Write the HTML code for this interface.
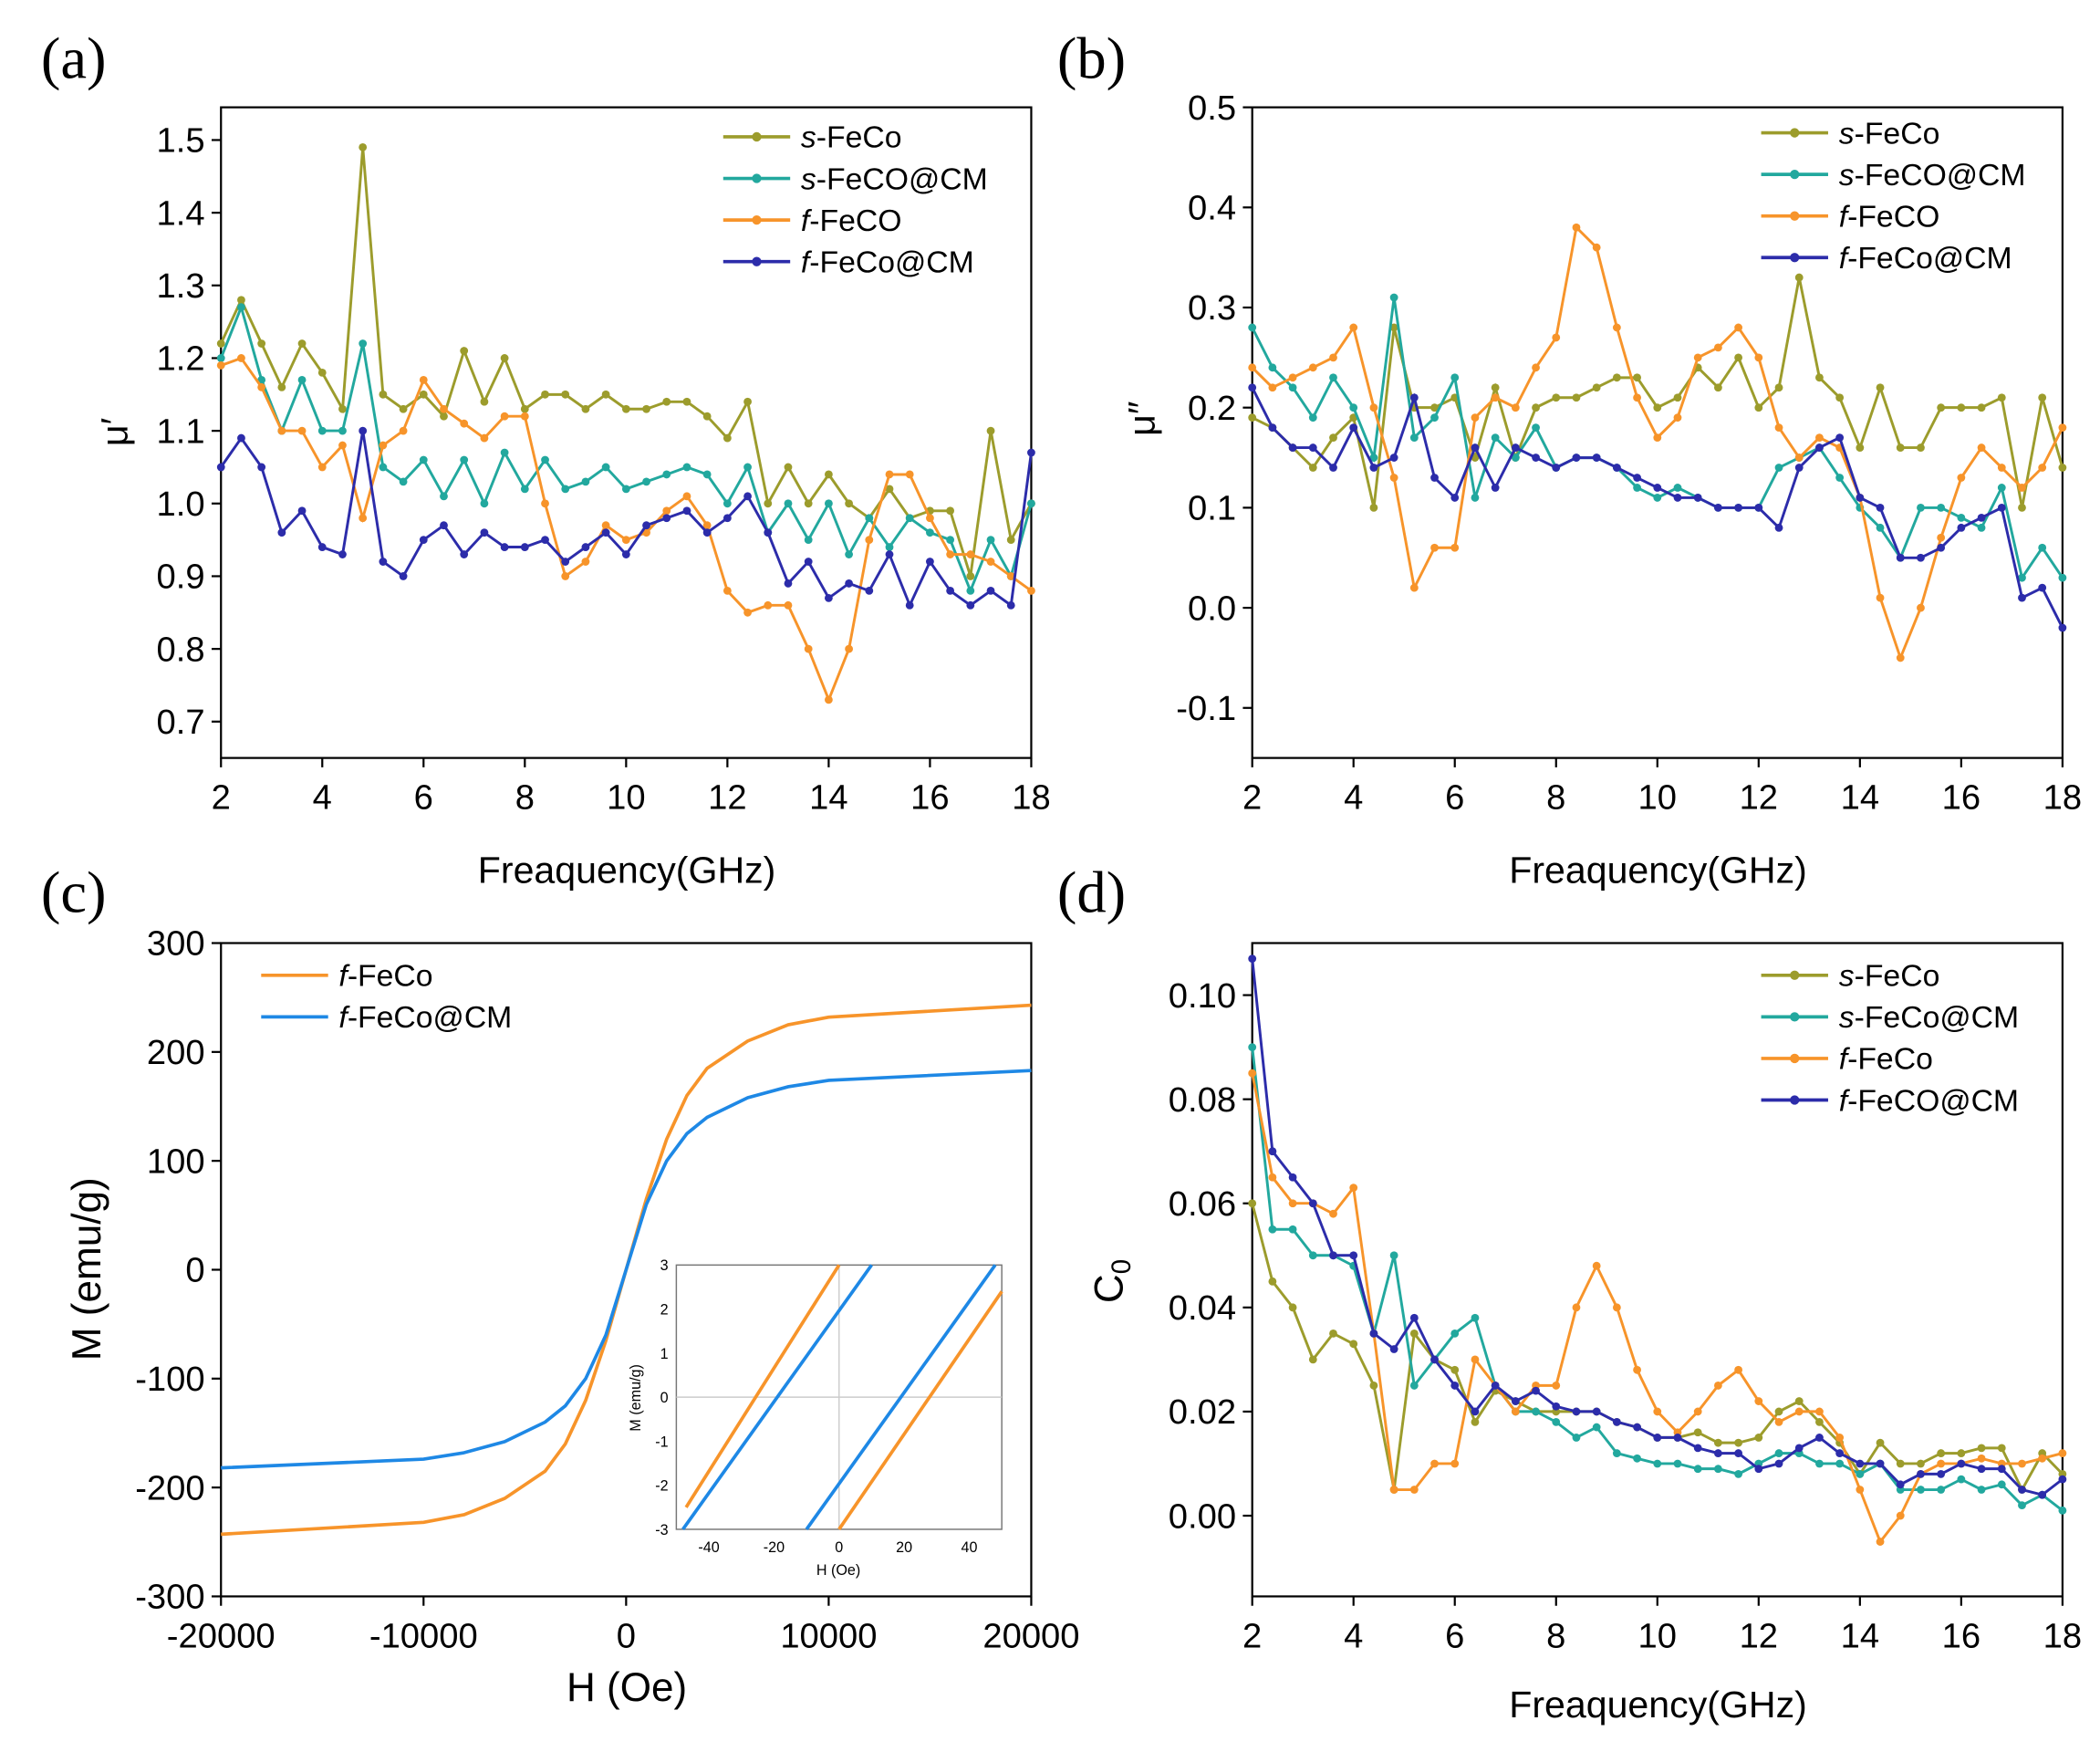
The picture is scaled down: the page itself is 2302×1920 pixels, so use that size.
<!DOCTYPE html>
<html><head><meta charset="utf-8"><style>
html,body{margin:0;padding:0;background:#fff;}
svg{display:block;font-family:"Liberation Sans",sans-serif;}
</style></head><body>
<svg id="fig" width="2302" height="1920" viewBox="0 0 1568 1306" preserveAspectRatio="none" xmlns="http://www.w3.org/2000/svg"></svg>
<script>
const freq=[2.0,2.4,2.8,3.2,3.6,4.0,4.4,4.8,5.2,5.6,6.0,6.4,6.8,7.2,7.6,8.0,8.4,8.8,9.2,9.6,10.0,10.4,10.8,11.2,11.6,12.0,12.4,12.8,13.2,13.6,14.0,14.4,14.8,15.2,15.6,16.0,16.4,16.8,17.2,17.6,18.0];
const a_sFeCo=[1.22,1.28,1.22,1.16,1.22,1.18,1.13,1.49,1.15,1.13,1.15,1.12,1.21,1.14,1.20,1.13,1.15,1.15,1.13,1.15,1.13,1.13,1.14,1.14,1.12,1.09,1.14,1.00,1.05,1.00,1.04,1.00,0.98,1.02,0.98,0.99,0.99,0.90,1.10,0.95,1.00];
const a_sFeCoCM=[1.20,1.27,1.17,1.10,1.17,1.10,1.10,1.22,1.05,1.03,1.06,1.01,1.06,1.00,1.07,1.02,1.06,1.02,1.03,1.05,1.02,1.03,1.04,1.05,1.04,1.00,1.05,0.96,1.00,0.95,1.00,0.93,0.98,0.94,0.98,0.96,0.95,0.88,0.95,0.90,1.00];
const a_fFeCo=[1.19,1.20,1.16,1.10,1.10,1.05,1.08,0.98,1.08,1.10,1.17,1.13,1.11,1.09,1.12,1.12,1.00,0.90,0.92,0.97,0.95,0.96,0.99,1.01,0.97,0.88,0.85,0.86,0.86,0.80,0.73,0.80,0.95,1.04,1.04,0.98,0.93,0.93,0.92,0.90,0.88];
const a_fFeCoCM=[1.05,1.09,1.05,0.96,0.99,0.94,0.93,1.10,0.92,0.90,0.95,0.97,0.93,0.96,0.94,0.94,0.95,0.92,0.94,0.96,0.93,0.97,0.98,0.99,0.96,0.98,1.01,0.96,0.89,0.92,0.87,0.89,0.88,0.93,0.86,0.92,0.88,0.86,0.88,0.86,1.07];
const b_sFeCo=[0.19,0.18,0.16,0.14,0.17,0.19,0.10,0.28,0.20,0.20,0.21,0.15,0.22,0.15,0.20,0.21,0.21,0.22,0.23,0.23,0.20,0.21,0.24,0.22,0.25,0.20,0.22,0.33,0.23,0.21,0.16,0.22,0.16,0.16,0.20,0.20,0.20,0.21,0.10,0.21,0.14];
const b_sFeCoCM=[0.28,0.24,0.22,0.19,0.23,0.20,0.15,0.31,0.17,0.19,0.23,0.11,0.17,0.15,0.18,0.14,0.15,0.15,0.14,0.12,0.11,0.12,0.11,0.10,0.10,0.10,0.14,0.15,0.16,0.13,0.10,0.08,0.05,0.10,0.10,0.09,0.08,0.12,0.03,0.06,0.03];
const b_fFeCo=[0.24,0.22,0.23,0.24,0.25,0.28,0.20,0.13,0.02,0.06,0.06,0.19,0.21,0.20,0.24,0.27,0.38,0.36,0.28,0.21,0.17,0.19,0.25,0.26,0.28,0.25,0.18,0.15,0.17,0.16,0.11,0.01,-0.05,0.00,0.07,0.13,0.16,0.14,0.12,0.14,0.18];
const b_fFeCoCM=[0.22,0.18,0.16,0.16,0.14,0.18,0.14,0.15,0.21,0.13,0.11,0.16,0.12,0.16,0.15,0.14,0.15,0.15,0.14,0.13,0.12,0.11,0.11,0.10,0.10,0.10,0.08,0.14,0.16,0.17,0.11,0.10,0.05,0.05,0.06,0.08,0.09,0.10,0.01,0.02,-0.02];
const d_sFeCo=[0.060,0.045,0.040,0.030,0.035,0.033,0.025,0.005,0.035,0.030,0.028,0.018,0.024,0.022,0.020,0.020,0.020,0.020,0.018,0.017,0.015,0.015,0.016,0.014,0.014,0.015,0.020,0.022,0.018,0.014,0.008,0.014,0.010,0.010,0.012,0.012,0.013,0.013,0.005,0.012,0.008];
const d_sFeCoCM=[0.090,0.055,0.055,0.050,0.050,0.048,0.035,0.050,0.025,0.030,0.035,0.038,0.025,0.020,0.020,0.018,0.015,0.017,0.012,0.011,0.010,0.010,0.009,0.009,0.008,0.010,0.012,0.012,0.010,0.010,0.008,0.010,0.005,0.005,0.005,0.007,0.005,0.006,0.002,0.004,0.001];
const d_fFeCo=[0.085,0.065,0.060,0.060,0.058,0.063,0.035,0.005,0.005,0.010,0.010,0.030,0.025,0.020,0.025,0.025,0.040,0.048,0.040,0.028,0.020,0.016,0.020,0.025,0.028,0.022,0.018,0.020,0.020,0.015,0.005,-0.005,0.000,0.008,0.010,0.010,0.011,0.010,0.010,0.011,0.012];
const d_fFeCoCM=[0.107,0.070,0.065,0.060,0.050,0.050,0.035,0.032,0.038,0.030,0.025,0.020,0.025,0.022,0.024,0.021,0.020,0.020,0.018,0.017,0.015,0.015,0.013,0.012,0.012,0.009,0.010,0.013,0.015,0.012,0.010,0.010,0.006,0.008,0.008,0.010,0.009,0.009,0.005,0.004,0.007];
const hField=[-20000,-10000,-8000,-6000,-4000,-3000,-2000,-1000,0,1000,2000,3000,4000,6000,8000,10000,20000];
const c_fFeCo=[-243,-232,-225,-210,-185,-160,-120,-65,0,65,120,160,185,210,225,232,243];
const c_fFeCoCM=[-182,-174,-168,-158,-140,-125,-100,-60,0,60,100,125,140,158,168,174,183];
const inH=[-50,50];
const inOrangeL=[-2.5,3],inOrangeLx=[-47,0];
const inBlueL=[-3,3],inBlueLx=[-48,10];
const inBlueR=[-3,3],inBlueRx=[-10,48];
const inOrangeR=[-3,2.4],inOrangeRx=[0,50];

const NS="http://www.w3.org/2000/svg";
const svg=document.getElementById('fig');
function el(tag,attrs,parent,text){const e=document.createElementNS(NS,tag);for(const k in attrs)e.setAttribute(k,attrs[k]);if(text!==undefined)e.textContent=text;(parent||svg).appendChild(e);return e;}
const C={olive:'#9c9c2c',teal:'#22a89e',orange:'#f7942a',navy:'#2c2caa',blue:'#1e88e5'};

function axes(name,x0,x1,y0,y1,xmin,xmax,ymin,ymax){
  const g=el('g',{});
  
  
  const sx=v=>x0+(v-xmin)/(xmax-xmin)*(x1-x0);
  const sy=v=>y1-(v-ymin)/(ymax-ymin)*(y1-y0);
  return {g,sx,sy,x0,x1,y0,y1};
}
function frame(A,xt,yt,xfmt,yfmt,fs){
  const r=el('rect',{x:A.x0,y:A.y0,width:A.x1-A.x0,height:A.y1-A.y0,fill:'none',stroke:'#000','stroke-width':1.5},A.g);
  
  
  xt.forEach(v=>{const x=A.sx(v);el('line',{x1:x,x2:x,y1:A.y1,y2:A.y1+7,stroke:'#000','stroke-width':1.5},A.g);
    const t=el('text',{x:x,y:A.y1+38,'text-anchor':'middle','font-size':fs||26},A.g,xfmt?xfmt(v):v);
    });
  yt.forEach(v=>{const y=A.sy(v);el('line',{x1:A.x0-7,x2:A.x0,y1:y,y2:y,stroke:'#000','stroke-width':1.5},A.g);
    const t=el('text',{x:A.x0-12,y:y+9,'text-anchor':'end','font-size':fs||26},A.g,yfmt?yfmt(v):v);
    });
}
function series(A,xs,ys,col,name,markers){
  const g=el('g',{},A.g);
  
  
  const pts=xs.map((x,i)=>A.sx(x).toFixed(1)+','+A.sy(ys[i]).toFixed(1)).join(' ');
  el('polyline',{points:pts,fill:'none',stroke:col,'stroke-width':markers?2:2.5},g);
  if(markers)xs.forEach((x,i)=>{const c=el('circle',{cx:A.sx(x),cy:A.sy(ys[i]),r:3,fill:col},g);
    });
}
function legend(parent,x,y,items,markers){
  items.forEach((it,i)=>{const g=el('g',{},parent);
    
    const yy=y+i*31;
    el('line',{x1:x,x2:x+50,y1:yy,y2:yy,stroke:it[1],'stroke-width':2.5},g);
    if(markers)el('circle',{cx:x+25,cy:yy,r:3.5,fill:it[1]},g);
    const t=el('text',{x:x+58,y:yy+8,'font-size':23},g);
    el('tspan',{'font-style':'italic'},t,it[0]);el('tspan',{},t,it[2]);});
}
function label(txt,x,y,name,rot,fs,family){
  const t=el('text',{x:x,y:y,'text-anchor':'middle','font-size':fs||28,'font-family':family||'Liberation Sans, sans-serif'});
  if(rot)t.setAttribute('transform','rotate(-90 '+x+' '+y+')');
  t.textContent=txt;return t;
}
const fx=[2,4,6,8,10,12,14,16,18];
// (a)
let A=axes('panel-a',165,770,80,565,2,18,0.65,1.545);
frame(A,fx,[0.7,0.8,0.9,1.0,1.1,1.2,1.3,1.4,1.5],null,v=>v.toFixed(1));
series(A,freq,a_sFeCo,C.olive,'series-s-feco',1);
series(A,freq,a_sFeCoCM,C.teal,'series-s-feco-cm',1);
series(A,freq,a_fFeCo,C.orange,'series-f-feco',1);
series(A,freq,a_fFeCoCM,C.navy,'series-f-feco-cm',1);
legend(A.g,540,102,[['s',C.olive,'-FeCo'],['s',C.teal,'-FeCO@CM'],['f',C.orange,'-FeCO'],['f',C.navy,'-FeCo@CM']],1);
label('μ′',95,322,'y-axis-title-a',true,28);
label('Freaquency(GHz)',468,658,'x-axis-title-a');
label('(a)',55,58,'panel-label-a',false,44,'Liberation Serif, serif');
// (b)
let B=axes('panel-b',935,1540,80,565,2,18,-0.15,0.5);
frame(B,fx,[-0.1,0.0,0.1,0.2,0.3,0.4,0.5],null,v=>v.toFixed(1));
series(B,freq,b_sFeCo,C.olive,'series-s-feco',1);
series(B,freq,b_sFeCoCM,C.teal,'series-s-feco-cm',1);
series(B,freq,b_fFeCo,C.orange,'series-f-feco',1);
series(B,freq,b_fFeCoCM,C.navy,'series-f-feco-cm',1);
legend(B.g,1315,99,[['s',C.olive,'-FeCo'],['s',C.teal,'-FeCO@CM'],['f',C.orange,'-FeCO'],['f',C.navy,'-FeCo@CM']],1);
label('μ″',862,312,'y-axis-title-b',true,28);
label('Freaquency(GHz)',1238,658,'x-axis-title-b');
label('(b)',815,58,'panel-label-b',false,44,'Liberation Serif, serif');
// (c)
let Cc=axes('panel-c',165,770,703,1190,-20000,20000,-300,300);
frame(Cc,[-20000,-10000,0,10000,20000],[-300,-200,-100,0,100,200,300]);
series(Cc,hField,c_fFeCo,C.orange,'series-f-feco',0);
series(Cc,hField,c_fFeCoCM,C.blue,'series-f-feco-cm',0);
legend(Cc.g,195,727,[['f',C.orange,'-FeCo'],['f',C.blue,'-FeCo@CM']],0);
label('M (emu/g)',75,946,'y-axis-title-c',true,30);
label('H (Oe)',468,1268,'x-axis-title-c',false,30);
label('(c)',55,680,'panel-label-c',false,44,'Liberation Serif, serif');
// inset
let I=axes('inset-c',505,748,943,1140,-50,50,-3,3);
el('rect',{x:505,y:943,width:243,height:197,fill:'#fff',stroke:'#777','stroke-width':1},I.g);
el('line',{x1:I.sx(0),x2:I.sx(0),y1:943,y2:1140,stroke:'#ccc','stroke-width':1},I.g);
el('line',{x1:505,x2:748,y1:I.sy(0),y2:I.sy(0),stroke:'#ccc','stroke-width':1},I.g);
[-40,-20,0,20,40].forEach(v=>{el('text',{x:I.sx(v),y:1157,'text-anchor':'middle','font-size':11},I.g,v);});
[-3,-2,-1,0,1,2,3].forEach(v=>{el('text',{x:499,y:I.sy(v)+4,'text-anchor':'end','font-size':11},I.g,v);});
el('text',{x:626,y:1174,'text-anchor':'middle','font-size':11},I.g,'H (Oe)');
el('text',{x:478,y:1042,'text-anchor':'middle','font-size':11,transform:'rotate(-90 478 1042)'},I.g,'M (emu/g)');
series(I,inOrangeLx,inOrangeL,C.orange,'inset-f-feco-left',0);
series(I,inOrangeRx,inOrangeR,C.orange,'inset-f-feco-right',0);
series(I,inBlueLx,inBlueL,C.blue,'inset-f-feco-cm-left',0);
series(I,inBlueRx,inBlueR,C.blue,'inset-f-feco-cm-right',0);
// (d)
let D=axes('panel-d',935,1540,703,1190,2,18,-0.0155,0.11);
frame(D,fx,[0.00,0.02,0.04,0.06,0.08,0.10],null,v=>v.toFixed(2));
series(D,freq,d_sFeCo,C.olive,'series-s-feco',1);
series(D,freq,d_sFeCoCM,C.teal,'series-s-feco-cm',1);
series(D,freq,d_fFeCo,C.orange,'series-f-feco',1);
series(D,freq,d_fFeCoCM,C.navy,'series-f-feco-cm',1);
legend(D.g,1315,727,[['s',C.olive,'-FeCo'],['s',C.teal,'-FeCo@CM'],['f',C.orange,'-FeCo'],['f',C.navy,'-FeCO@CM']],1);
const yt=label('C',838,955,'y-axis-title-d',true,30);
el('tspan',{'font-size':20,dy:6},yt,'0');
label('Freaquency(GHz)',1238,1280,'x-axis-title-d');
label('(d)',815,680,'panel-label-d',false,44,'Liberation Serif, serif');
</script>
</body></html>
